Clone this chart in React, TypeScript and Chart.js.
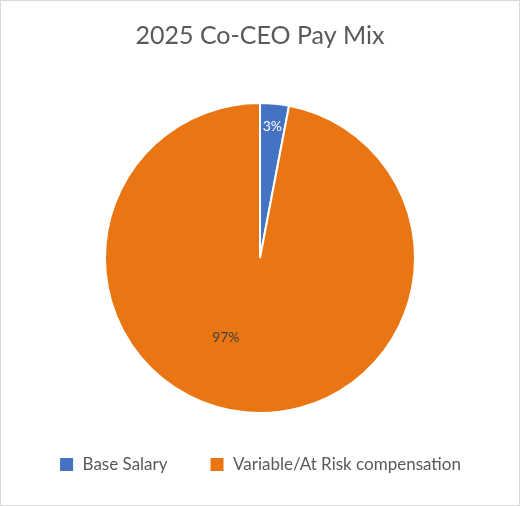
import React, { useEffect, useRef } from "react";
import { Chart, registerables } from "chart.js";

Chart.register(...registerables);

const titleText = "2025 Co-CEO Pay Mix";
const categories = ["Base Salary", "Variable/At Risk compensation"];
const values = [3, 97];
const sliceColors = ["#4472C4", "#E97612"];
const labelColors = ["#FFFFFF", "#404040"];
// label placement: fraction of radius, angle offset (radians) from slice middle
const labelRadius = [0.85, 0.56];
const labelAngleOffset = [0, 0.31];

const FONT = "Lato, 'Open Sans', sans-serif";

const pctLabels = {
  id: "pctLabels",
  afterDatasetsDraw(chart: any) {
    const ctx = chart.ctx;
    const meta = chart.getDatasetMeta(0);
    const total = values.reduce((a, b) => a + b, 0);
    ctx.save();
    ctx.font = `14px ${FONT}`;
    ctx.textAlign = "center";
    ctx.textBaseline = "middle";
    meta.data.forEach((arc: any, i: number) => {
      const p = arc.getProps(["x", "y", "startAngle", "endAngle", "outerRadius"], true);
      const mid = (p.startAngle + p.endAngle) / 2 + labelAngleOffset[i];
      const r = p.outerRadius * labelRadius[i];
      const x = p.x + Math.cos(mid) * r;
      const y = p.y + Math.sin(mid) * r;
      ctx.fillStyle = labelColors[i];
      ctx.fillText(Math.round((values[i] / total) * 100) + "%", x, y);
    });
    ctx.restore();
  },
};

export default function App() {
  const ref = useRef<HTMLCanvasElement | null>(null);
  useEffect(() => {
    if (!ref.current) return;
    const chart = new Chart(ref.current, {
      type: "pie",
      data: {
        labels: categories,
        datasets: [
          {
            data: values,
            backgroundColor: sliceColors,
            borderColor: "#FFFFFF",
            borderWidth: 2,
          },
        ],
      },
      options: {
        responsive: false,
        animation: false,
        layout: { padding: { top: 0, bottom: 22, left: 0, right: 0 } },
        plugins: {
          title: {
            display: true,
            text: titleText,
            color: "#595959",
            font: { family: FONT, size: 25, weight: "normal" },
            padding: { top: 20, bottom: 51 },
          },
          legend: {
            display: true,
            position: "bottom",
            labels: {
              color: "#595959",
              font: { family: FONT, size: 17 },
              boxWidth: 15,
              boxHeight: 15,
              padding: 42,
            },
          },
          tooltip: { enabled: false },
        },
      },
      plugins: [pctLabels],
    });
    return () => chart.destroy();
  }, []);
  return (
    <div
      style={{
        position: "absolute",
        left: 0,
        top: 0,
        width: 520,
        height: 506,
        boxSizing: "border-box",
        border: "1px solid #D9D9D9",
        background: "#FFFFFF",
      }}
    >
      <canvas ref={ref} width={518} height={504} style={{ display: "block" }} />
    </div>
  );
}
